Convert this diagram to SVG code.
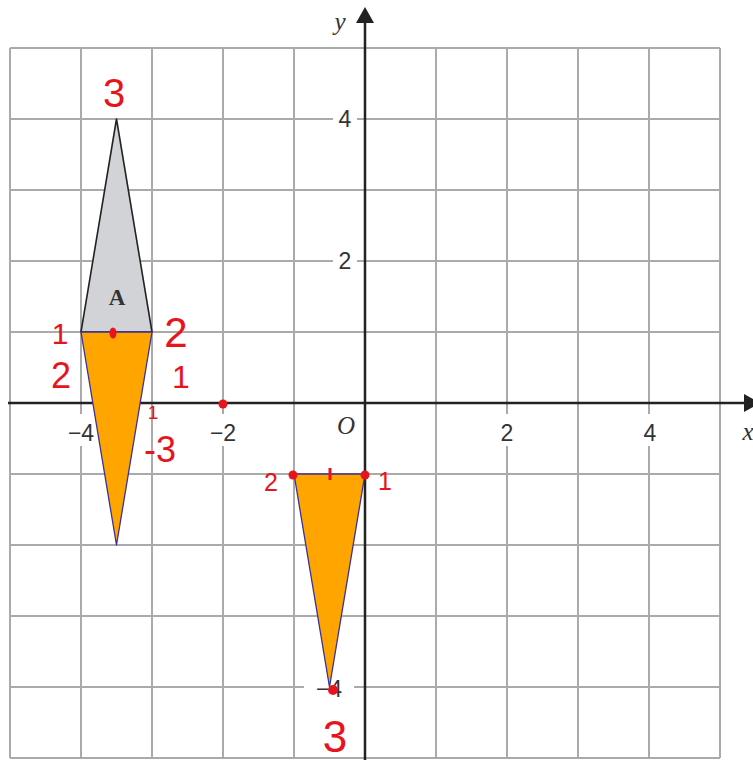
<svg xmlns="http://www.w3.org/2000/svg" width="753" height="760" viewBox="0 0 753 760">
<defs>
<style>
.grid{stroke:#aaaaaa;stroke-width:2;fill:none}
.axis{stroke:#222;stroke-width:2.5;fill:none}
.tick{font-family:"Liberation Sans",Arial,sans-serif;font-size:23px;fill:#333;text-anchor:middle}
.ital{font-family:"Liberation Serif","Times New Roman",serif;font-style:italic;font-size:25px;fill:#333;text-anchor:middle}
.hand{font-family:"Liberation Sans",Arial,sans-serif;fill:#e8141c;text-anchor:middle}
.bg{fill:#fff}
.orange{fill:#ffa500;stroke:#3b2f9a;stroke-width:1.3;stroke-linejoin:round}
.dot{fill:#e8141c}
.head{fill:#222}
</style>
</defs>
<rect width="753" height="760" fill="#fff"/>
<g id="grid" class="grid">
<path d="M10,48V758M81,48V758M152,48V758M223,48V758M294,48V758M436,48V758M507,48V758M578,48V758M649,48V758M720,48V758"/>
<path d="M10,48H720M10,119H720M10,190H720M10,261H720M10,332H720M10,474H720M10,545H720M10,616H720M10,687H720M10,758H720"/>
</g>
<g id="label-bg">
<rect class="bg" x="333" y="106" width="24" height="26"/>
<rect class="bg" x="333" y="248" width="24" height="26"/>
<rect class="bg" x="304" y="676" width="50" height="24"/>
<rect class="bg" x="64" y="414" width="36" height="32"/>
<rect class="bg" x="206" y="414" width="36" height="32"/>
<rect class="bg" x="497" y="414" width="20" height="32"/>
<rect class="bg" x="639" y="414" width="20" height="32"/>
</g>
<g id="axes">
<path class="axis" d="M8,403H745"/>
<polygon class="head" points="744,394 760,403 744,412"/>
<path class="axis" d="M365,760V20"/>
<polygon class="head" points="356,23 365,7 374,23"/>
</g>
<g id="axis-labels">
<text class="ital" x="340" y="30">y</text>
<text class="ital" x="748" y="440">x</text>
<text class="ital" x="346" y="434">O</text>
<text class="tick" x="345" y="127">4</text>
<text class="tick" x="345" y="269">2</text>
<text class="tick" x="329" y="697">−4</text>
<text class="tick" x="81" y="441">−4</text>
<text class="tick" x="223" y="441">−2</text>
<text class="tick" x="507" y="441">2</text>
<text class="tick" x="650" y="441">4</text>
</g>
<g id="triangle-A">
<polygon points="81,332 152,332 116.5,119" fill="#d2d3d6" stroke="#222" stroke-width="1.6" stroke-linejoin="round"/>
<text x="117" y="305" font-family="Liberation Serif,'Times New Roman',serif" font-weight="bold" font-size="23" fill="#333" text-anchor="middle">A</text>
</g>
<g id="triangle-reflected">
<polygon class="orange" points="81,332 152,332 116.5,545"/>
</g>
<g id="triangle-image">
<polygon class="orange" points="294,474 365,474 329.5,687"/>
</g>
<g id="annotations">
<text class="hand" x="114" y="107" font-size="40">3</text>
<text class="hand" x="60" y="344" font-size="30">1</text>
<ellipse class="dot" cx="113" cy="333" rx="3.5" ry="5.5"/>
<text class="hand" x="176" y="347" font-size="42">2</text>
<text class="hand" x="61" y="388" font-size="36">2</text>
<text class="hand" x="181" y="388" font-size="32">1</text>
<text class="hand" x="153" y="419" font-size="19">1</text>
<text class="hand" x="160" y="462" font-size="36">-3</text>
<circle class="dot" cx="223" cy="404" r="4.5"/>
<text class="hand" x="271" y="491" font-size="25">2</text>
<circle class="dot" cx="293" cy="475" r="4.5"/>
<path d="M330,468V480" stroke="#e8141c" stroke-width="3"/>
<circle class="dot" cx="365" cy="475" r="4.5"/>
<text class="hand" x="385" y="490" font-size="25">1</text>
<circle class="dot" cx="333" cy="690" r="5"/>
<text class="hand" x="335" y="752" font-size="44">3</text>
</g>
</svg>
